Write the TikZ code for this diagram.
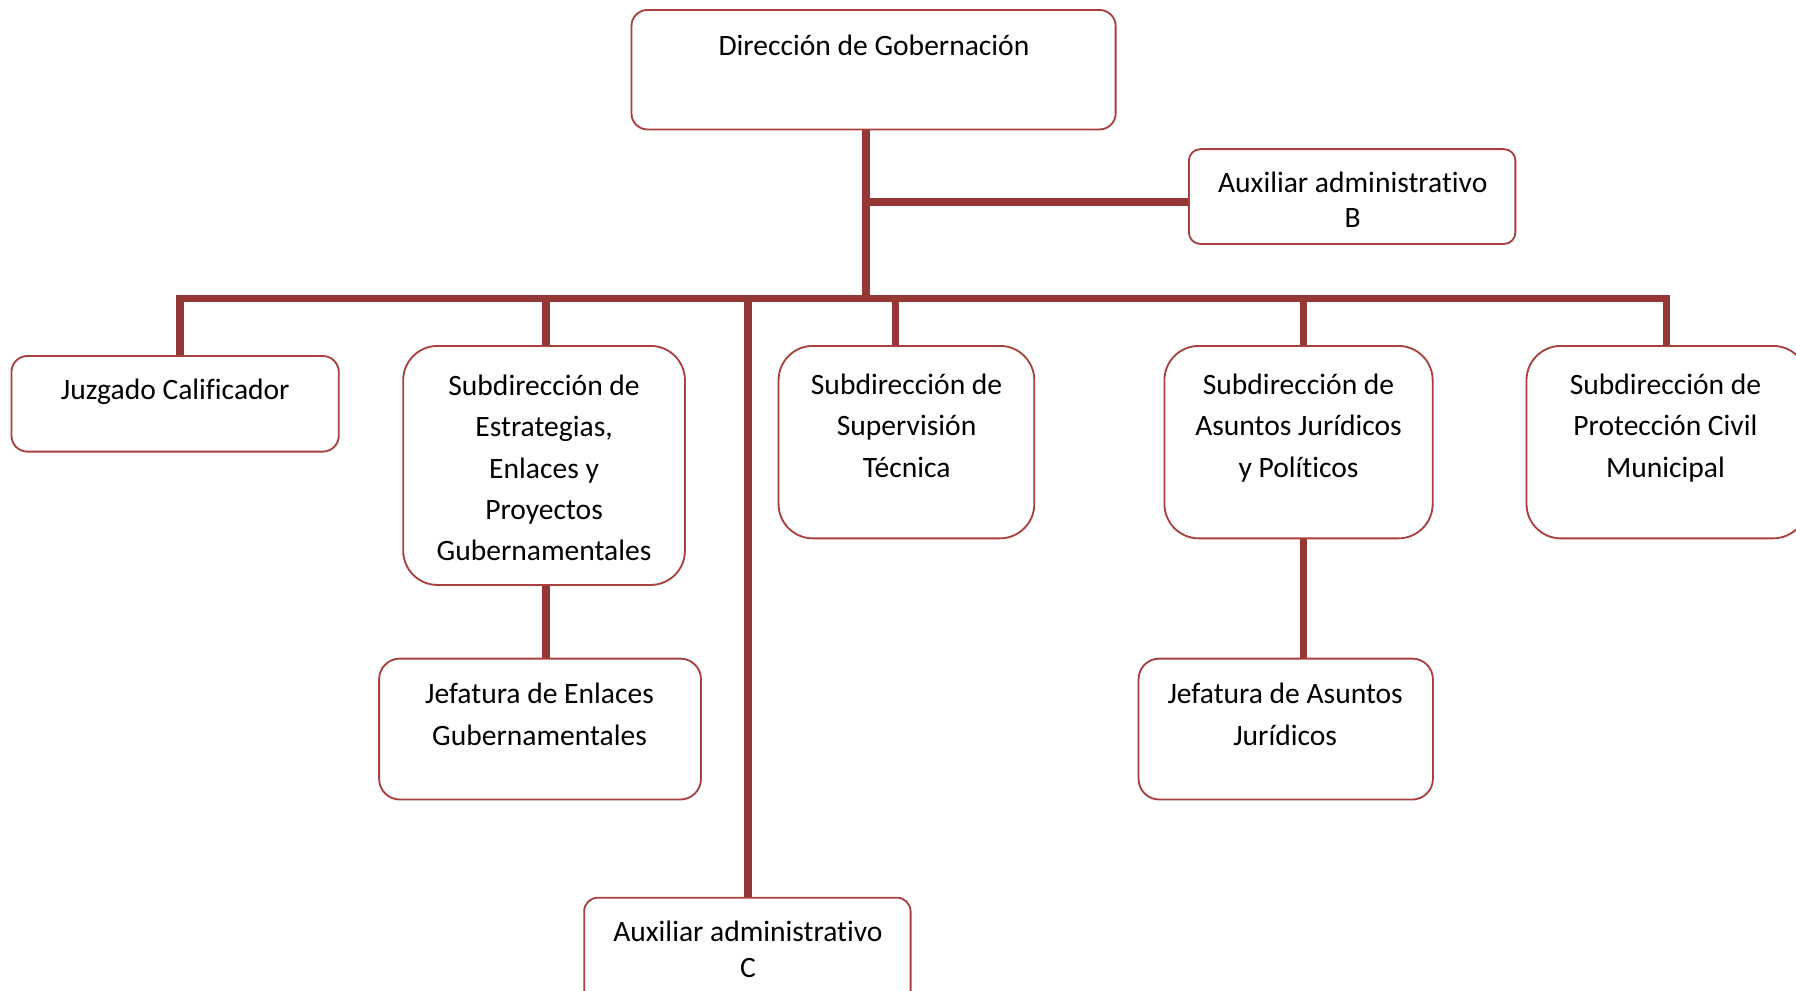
\documentclass[tikz,border=0pt]{standalone}
\usepackage{fontspec}
\setmainfont{Carlito}[Ligatures=NoCommon]
\definecolor{connc}{HTML}{953735}
\definecolor{bord}{HTML}{A8403D}
\newcommand{\tx}[2]{{\fontsize{25.8}{#1}\selectfont\begin{tabular}[t]{@{}c@{}}#2\end{tabular}}}
\begin{document}
\begin{tikzpicture}[x=1pt,y=-1pt,
  box/.style={draw=bord,line width=1.6pt,fill=white,inner sep=0pt},
  conn/.style={draw=connc,line width=6.5pt,line join=miter},
  lbl/.style={anchor=base,inner sep=0pt,text=black}]
\useasboundingbox (0,0) rectangle (1568,865);
\fill[white] (0,0) rectangle (1568,865);
\clip (0,0) rectangle (1568,865);

% boxes
\node[box,rounded corners=14pt,minimum width=422.7pt,minimum height=104.3pt] (dir) at (762.65,60.85) {};
\node[box,rounded corners=10pt,minimum width=285pt,minimum height=82.8pt] (auxB) at (1180.5,171.6) {};
\node[box,rounded corners=14pt,minimum width=285.8pt,minimum height=83.5pt] (juz) at (152.9,352.55) {};
\node[box,rounded corners=30pt,minimum width=246pt,minimum height=208.7pt] (est) at (475,406.35) {};
\node[box,rounded corners=30pt,minimum width=223.3pt,minimum height=168pt] (sup) at (791.35,386) {};
\node[box,rounded corners=30pt,minimum width=234.2pt,minimum height=168pt] (asu) at (1133.7,386) {};
\node[box,rounded corners=30pt,minimum width=245.3pt,minimum height=168pt] (pro) at (1455.35,386) {};
\node[box,rounded corners=18pt,minimum width=281pt,minimum height=123pt] (jefE) at (471.5,636.5) {};
\node[box,rounded corners=18pt,minimum width=257pt,minimum height=123pt] (jefA) at (1122.5,636.5) {};
\node[box,rounded corners=12pt,minimum width=285pt,minimum height=96.3pt] (auxC) at (652.5,831.85) {};

% bus coordinates
\coordinate (trunk) at (756,260.5);
\coordinate (bL) at (157,260.5);
\coordinate (bR) at (1455,260.5);
\coordinate (xEst) at (476.5,260.5);
\coordinate (xAuxC) at (653,260.5);
\coordinate (xSup) at (782,260.5);
\coordinate (xAsu) at (1138,260.5);
\coordinate (hB) at (756,176.5);

% connectors
\draw[conn] (dir.south -| trunk) -- (trunk);
\draw[conn] (hB) -- (auxB.west |- hB);
\draw[conn] (juz.north -| bL) -- (bL) -- (bR) -- (pro.north -| bR);
\draw[conn] (xEst) -- (est.north -| xEst);
\draw[conn] (xAuxC) -- (auxC.north -| xAuxC);
\draw[conn] (xSup) -- (sup.north -| xSup);
\draw[conn] (xAsu) -- (asu.north -| xAsu);
\draw[conn] (est.south -| xEst) -- (jefE.north -| xEst);
\draw[conn] (asu.south -| xAsu) -- (jefA.north -| xAsu);

% texts
\node[lbl] (dirT) at (763,48.5) {\tx{36}{Dirección de Gobernación}};
\node[lbl] (auxBT) at (1181,168) {\tx{31}{Auxiliar administrativo\\B}};
\node[lbl] (juzT) at (153,348.5) {\tx{36}{Juzgado Calificador}};
\node[lbl] (estT) at (475,345.5) {\tx{36}{Subdirección de\\Estrategias,\\Enlaces y\\Proyectos\\Gubernamentales}};
\node[lbl] (supT) at (791.5,344.5) {\tx{36}{Subdirección de\\Supervisión\\Técnica}};
\node[lbl] (asuT) at (1133.7,344.5) {\tx{36}{Subdirección de\\Asuntos Jurídicos\\y Políticos}};
\node[lbl] (proT) at (1454,344.5) {\tx{36}{Subdirección de\\Protección Civil\\Municipal}};
\node[lbl] (jefET) at (471,614.5) {\tx{36}{Jefatura de Enlaces\\Gubernamentales}};
\node[lbl] (jefAT) at (1122,614.5) {\tx{36}{Jefatura de Asuntos\\Jurídicos}};
\node[lbl] (auxCT) at (653,822) {\tx{31}{Auxiliar administrativo\\C}};
\end{tikzpicture}
\end{document}
